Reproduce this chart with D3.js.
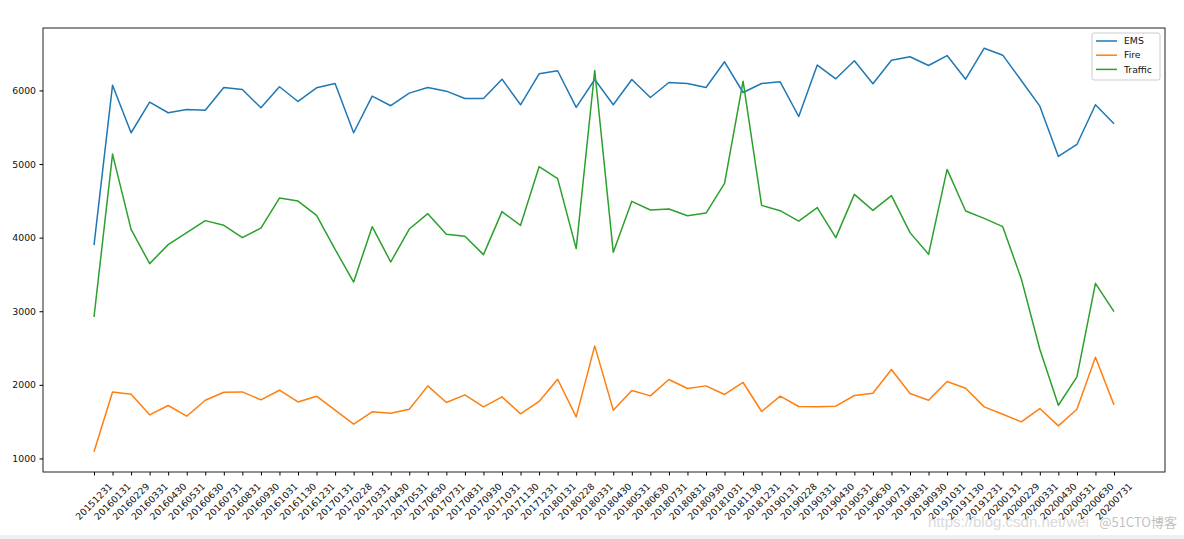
<!DOCTYPE html>
<html><head><meta charset="utf-8">
<script src="https://cdn.jsdelivr.net/npm/d3@7"></script>
<style>
body{margin:0;background:#fff;}
svg{display:block;font-family:"DejaVu Sans",sans-serif;}
</style></head>
<body><svg id="c" width="1184" height="539"></svg>
<script>
const dates = ["20151231","20160131","20160229","20160331","20160430","20160531","20160630","20160731","20160831","20160930","20161031","20161130","20161231",
"20170131","20170228","20170331","20170430","20170531","20170630","20170731","20170831","20170930","20171031","20171130","20171231",
"20180131","20180228","20180331","20180430","20180531","20180630","20180731","20180831","20180930","20181031","20181130","20181231",
"20190131","20190228","20190331","20190430","20190531","20190630","20190731","20190831","20190930","20191031","20191130","20191231",
"20200131","20200229","20200331","20200430","20200531","20200630","20200731"];
const ems = [3899,6071,5425,5841,5697,5741,5732,6040,6013,5764,6050,5850,6036,
6094,5425,5922,5792,5963,6040,5990,5891,5891,6153,5805,6226,
6267,5769,6149,5805,6149,5904,6108,6094,6040,6389,5972,6094,
6117,5646,6345,6158,6403,6090,6411,6457,6339,6474,6153,6574,
6479,6135,5786,5103,5266,5805,5547];
const fire = [1090,1904,1873,1592,1719,1574,1791,1900,1904,1796,1927,1768,1846,
1656,1466,1633,1615,1669,1986,1760,1864,1701,1837,1606,1774,
2076,1565,2529,1656,1923,1850,2072,1950,1986,1869,2032,1638,
1846,1706,1701,1710,1855,1886,2208,1882,1791,2045,1954,1701,
1601,1497,1678,1443,1669,2375,1728];
const traffic = [2922,5135,4112,3647,3905,4068,4231,4167,4000,4130,4537,4497,4303,
3841,3397,4149,3669,4117,4326,4045,4018,3769,4353,4167,4964,
4801,3851,6271,3800,4493,4375,4388,4298,4334,4737,6126,4438,
4366,4225,4409,4000,4588,4370,4570,4068,3773,4927,4361,4262,
4149,3443,2484,1723,2108,3379,2995];
const seriesNames = ["EMS","Fire","Traffic"];
const colors = ["#1f77b4","#ff7f0e","#2ca02c"];
const yTicks = [1000,2000,3000,4000,5000,6000];

const svg = d3.select("#c");
const L=43, R=1165, T=28, B=472;
const n = dates.length;
const xm = (n-1)*0.05;
const x = d3.scaleLinear().domain([-xm, n-1+xm]).range([L,R]);
const all = ems.concat(fire, traffic);
const ymin = d3.min(all), ymax = d3.max(all), ym=(ymax-ymin)*0.05;
const y = d3.scaleLinear().domain([ymin-ym, ymax+ym]).range([B,T]);

svg.append("rect").attr("x",0).attr("y",535).attr("width",1184).attr("height",4).attr("fill","#f0f0f0");

const line = d3.line().x((d,i)=>x(i)).y(d=>y(d));
[ems,fire,traffic].forEach((s,k)=>{
  svg.append("path").datum(s).attr("d",line).attr("fill","none")
    .attr("stroke",colors[k]).attr("stroke-width",1.5).attr("stroke-linejoin","round");
});

// frame
svg.append("rect").attr("x",L).attr("y",T).attr("width",R-L).attr("height",B-T)
  .attr("fill","none").attr("stroke","#222").attr("stroke-width",1);

const ya = svg.append("g").attr("transform",`translate(${L},0)`)
  .call(d3.axisLeft(y).tickValues(yTicks).tickSize(3.5).tickPadding(3.5).tickFormat(d3.format("d")));
ya.select(".domain").remove();
ya.selectAll("text").attr("font-size","9.3px").attr("fill","#111").attr("font-family","DejaVu Sans");

const xa = svg.append("g").attr("transform",`translate(0,${B})`)
  .call(d3.axisBottom(x).tickValues(d3.range(n)).tickSize(3.5).tickFormat(i=>dates[i]));
xa.select(".domain").remove();
xa.selectAll("text").attr("font-size","9.3px").attr("fill","#111").attr("font-family","DejaVu Sans")
  .attr("text-anchor","end").attr("y",0).attr("dy",0)
  .attr("transform","translate(18.5,15) rotate(-45)");

// legend
const lg = svg.append("g");
lg.append("rect").attr("x",1092).attr("y",33).attr("width",68).attr("height",47).attr("rx",2)
  .attr("fill","#fff").attr("fill-opacity",0.8).attr("stroke","#ccc").attr("stroke-width",1);
seriesNames.forEach((s,k)=>{
  const yy = 41 + k*14.2;
  lg.append("line").attr("x1",1096).attr("x2",1117).attr("y1",yy).attr("y2",yy)
    .attr("stroke",colors[k]).attr("stroke-width",1.5);
  lg.append("text").attr("x",1124).attr("y",yy).attr("dy","0.35em").attr("font-size","9.3px")
    .attr("fill","#111").text(s);
});

// watermark
svg.append("text").attr("x",928).attr("y",527).attr("font-size","15px").attr("fill","#dadada")
  .attr("font-family","Liberation Sans, sans-serif").text("https://blog.csdn.net/wei");
svg.append("text").attr("x",1177).attr("y",527).attr("text-anchor","end").attr("font-size","13px").attr("fill","#c2c2c2")
  .attr("font-family","Noto Sans CJK SC, sans-serif").text("@51CTO博客");
</script></body></html>
